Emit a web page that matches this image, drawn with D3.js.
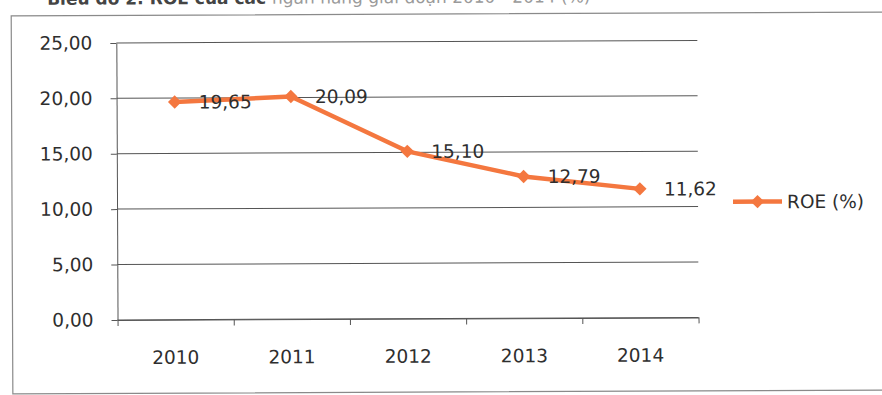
<!DOCTYPE html>
<html>
<head>
<meta charset="utf-8">
<script src="https://cdn.jsdelivr.net/npm/d3@7"></script>
<style>
  html, body { margin: 0; padding: 0; background: #ffffff; }
  svg { display: block; }
  text { font-family: "DejaVu Sans", sans-serif; fill: #2e2e2e; }
</style>
</head>
<body>
<svg id="chart" width="882" height="395"></svg>
<script>
// ROE by year
const years = ["2010", "2011", "2012", "2013", "2014"];
const roe = [19.65, 20.09, 15.10, 12.79, 11.62];
const yTicks = [0, 5, 10, 15, 20, 25];
const seriesName = "ROE (%)";
const captionDark = "Biểu đồ 2: ROE của các";
const captionLight = "ngân hàng giai đoạn 2010 - 2014 (%)";

const W = 882, H = 395;
const plot = { left: 117, right: 698, top: 41.5, bottom: 318.5 };
const orange = "#f4773f";
const gridColor = "#555555";
const textColor = "#2e2e2e";
const fontSize = "18.5px";
const fmt = v => d3.format(".2f")(v).replace(".", ",");

const svg = d3.select("#chart");
// whole figure sits slightly tilted, as on a scanned page
const g = svg.append("g").attr("transform", `rotate(-0.25 ${W / 2} ${H / 2})`);

// caption, mostly above the top edge
const cap = g.append("text").attr("x", 48).attr("y", 3)
  .style("font-size", "17px");
cap.append("tspan").style("font-weight", "bold").style("fill", "#444").text(captionDark + " ");
cap.append("tspan").style("fill", "#9a9a9a").text(captionLight);

// chart frame
g.append("rect")
  .attr("x", 12).attr("y", 14)
  .attr("width", 890).attr("height", 378)
  .attr("fill", "none").attr("stroke", "#8a8a8a").attr("stroke-width", 1.2);

const x = d3.scaleBand().domain(years).range([plot.left, plot.right]);
const xEdges = d3.scaleLinear().domain([0, years.length]).range([plot.left, plot.right]);
const y = d3.scaleLinear().domain([0, 25]).range([plot.bottom, plot.top]);

// horizontal gridlines
g.append("g").selectAll("line").data(yTicks).join("line")
  .attr("x1", plot.left).attr("x2", plot.right)
  .attr("y1", d => y(d)).attr("y2", d => y(d))
  .attr("stroke", gridColor).attr("stroke-width", 1);

// value axis
const yAxis = g.append("g").attr("transform", `translate(${plot.left},0)`)
  .call(d3.axisLeft(y).tickValues(yTicks).tickFormat(fmt)
    .tickSizeInner(6).tickSizeOuter(0).tickPadding(18));
yAxis.select(".domain").attr("stroke", gridColor);
yAxis.selectAll(".tick line").attr("stroke", gridColor);
yAxis.selectAll("text").style("font-size", fontSize).attr("fill", textColor)
  .attr("font-family", null);

// category axis: ticks at band edges, labels at band centres
const xTickAxis = g.append("g").attr("transform", `translate(0,${plot.bottom})`)
  .call(d3.axisBottom(xEdges).tickValues(d3.range(years.length + 1))
    .tickFormat("").tickSizeInner(6).tickSizeOuter(0));
xTickAxis.select(".domain").attr("stroke", gridColor);
xTickAxis.selectAll(".tick line").attr("stroke", gridColor);

const xLabelAxis = g.append("g").attr("transform", `translate(0,${plot.bottom})`)
  .call(d3.axisBottom(x).tickSize(0).tickPadding(31));
xLabelAxis.select(".domain").remove();
xLabelAxis.selectAll("text").style("font-size", fontSize).attr("fill", textColor)
  .attr("font-family", null);

// series line
const pts = years.map((yr, i) => ({ year: yr, value: roe[i] }));
const line = d3.line().x(d => x(d.year) + x.bandwidth() / 2).y(d => y(d.value));
g.append("path").datum(pts)
  .attr("d", line)
  .attr("fill", "none").attr("stroke", orange)
  .attr("stroke-width", 4.5).attr("stroke-linejoin", "round");

// diamond markers
const diamond = d3.symbol().type(d3.symbolSquare).size(90);
g.append("g").selectAll("path").data(pts).join("path")
  .attr("d", diamond)
  .attr("transform", d => `translate(${x(d.year) + x.bandwidth() / 2},${y(d.value)}) rotate(45)`)
  .attr("fill", orange);

// value labels to the right of each point
g.append("g").selectAll("text").data(pts).join("text")
  .attr("x", d => x(d.year) + x.bandwidth() / 2 + 24)
  .attr("y", d => y(d.value))
  .attr("dy", "0.36em")
  .style("font-size", fontSize)
  .text(d => fmt(d.value));

// legend
const lg = g.append("g").attr("transform", "translate(733,203)");
lg.append("line").attr("x1", 0).attr("x2", 49).attr("y1", 0).attr("y2", 0)
  .attr("stroke", orange).attr("stroke-width", 4.5);
lg.append("path").attr("d", diamond).attr("transform", "translate(24.5,0) rotate(45)")
  .attr("fill", orange);
lg.append("text").attr("x", 54).attr("y", 0).attr("dy", "0.36em")
  .style("font-size", fontSize).text(seriesName);
</script>
</body>
</html>
